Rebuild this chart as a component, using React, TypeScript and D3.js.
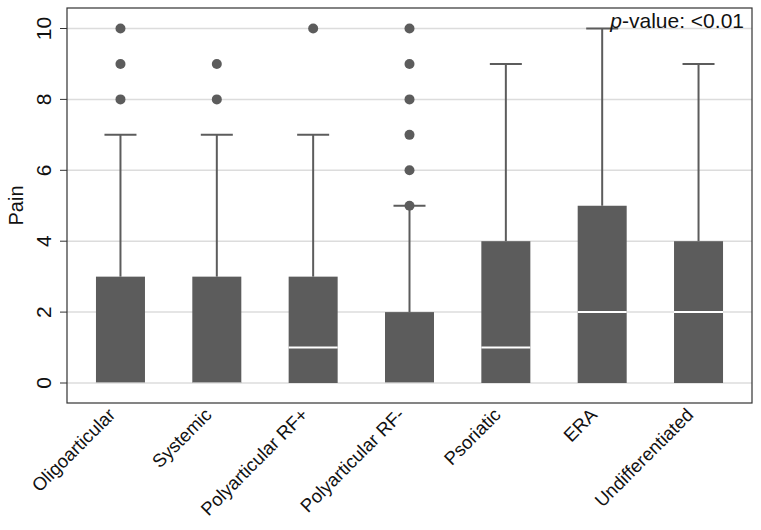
import React from "react";
import * as d3 from "d3";

const categories = ["Oligoarticular", "Systemic", "Polyarticular RF+", "Polyarticular RF-", "Psoriatic", "ERA", "Undifferentiated"];
const q1Values = [0, 0, 0, 0, 0, 0, 0];
const medianValues = [0, 0, 1, 0, 1, 2, 2];
const q3Values = [3, 3, 3, 2, 4, 5, 4];
const lowerWhisker = [0, 0, 0, 0, 0, 0, 0];
const upperWhisker = [7, 7, 7, 5, 9, 10, 9];
const outliers: number[][] = [[8, 9, 10], [8, 9], [10], [5, 6, 7, 8, 9, 10], [], [], []];
const yTicks = [0, 2, 4, 6, 8, 10];

const W = 761, H = 530;
const left = 67, right = 752, top = 8, bottom = 403;

export default function App() {
  const x = d3.scalePoint<string>().domain(categories).range([left, right]).padding(0.555);
  const y = d3.scaleLinear().domain([0, 10]).range([383, 28.5]);
  const boxW = 49;
  const capW = 32;
  const fill = "#5c5c5c";
  const font = "Liberation Sans, Arial, sans-serif";
  return (
    <svg width={W} height={H} style={{ position: "absolute", left: 0, top: 0, background: "#fff" }} fontFamily={font}>
      <rect x={0} y={0} width={W} height={H} fill="#fff" />
      {yTicks.map((t) => (
        <g key={t}>
          <line x1={left} x2={right} y1={y(t)} y2={y(t)} stroke="#dcdcdc" strokeWidth={1.5} />
          <line x1={left - 7} x2={left} y1={y(t)} y2={y(t)} stroke="#333" strokeWidth={1} />
          <text transform={`translate(${left - 16},${y(t)}) rotate(-90)`} textAnchor="middle" fontSize={21} fill="#111">{t}</text>
        </g>
      ))}
      <text transform={`translate(23,${(top + bottom) / 2}) rotate(-90)`} textAnchor="middle" fontSize={20} fill="#111">Pain</text>
      {categories.map((c, i) => {
        const cx = x(c)!;
        return (
          <g key={c}>
            <line x1={cx} x2={cx} y1={y(q3Values[i])} y2={y(upperWhisker[i])} stroke={fill} strokeWidth={2} />
            <line x1={cx - capW / 2} x2={cx + capW / 2} y1={y(upperWhisker[i])} y2={y(upperWhisker[i])} stroke={fill} strokeWidth={2} />
            <line x1={cx} x2={cx} y1={y(lowerWhisker[i])} y2={y(q1Values[i])} stroke={fill} strokeWidth={2} />
            <rect x={cx - boxW / 2} y={y(q3Values[i])} width={boxW} height={y(q1Values[i]) - y(q3Values[i])} fill={fill} />
            <line x1={cx - boxW / 2} x2={cx + boxW / 2} y1={y(medianValues[i]) - (medianValues[i] === 0 ? 0.5 : 0)} y2={y(medianValues[i]) - (medianValues[i] === 0 ? 0.5 : 0)} stroke="#fff" strokeWidth={medianValues[i] === 0 ? 1 : 2} strokeOpacity={medianValues[i] === 0 ? 0.5 : 1} />
            {outliers[i].map((o, j) => (
              <circle key={j} cx={cx} cy={y(o)} r={5} fill={fill} />
            ))}
            <text transform={`translate(${cx - 4},${bottom + 13}) rotate(-45)`} textAnchor="end" fontSize={18.5} fill="#111">{c}</text>
          </g>
        );
      })}
      <rect x={left} y={top} width={right - left} height={bottom - top} fill="none" stroke="#333" strokeWidth={1.2} />
      <text x={right - 8} y={28} textAnchor="end" fontSize={21} fill="#111">
        <tspan fontStyle="italic">p</tspan>-value: &lt;0.01
      </text>
    </svg>
  );
}
